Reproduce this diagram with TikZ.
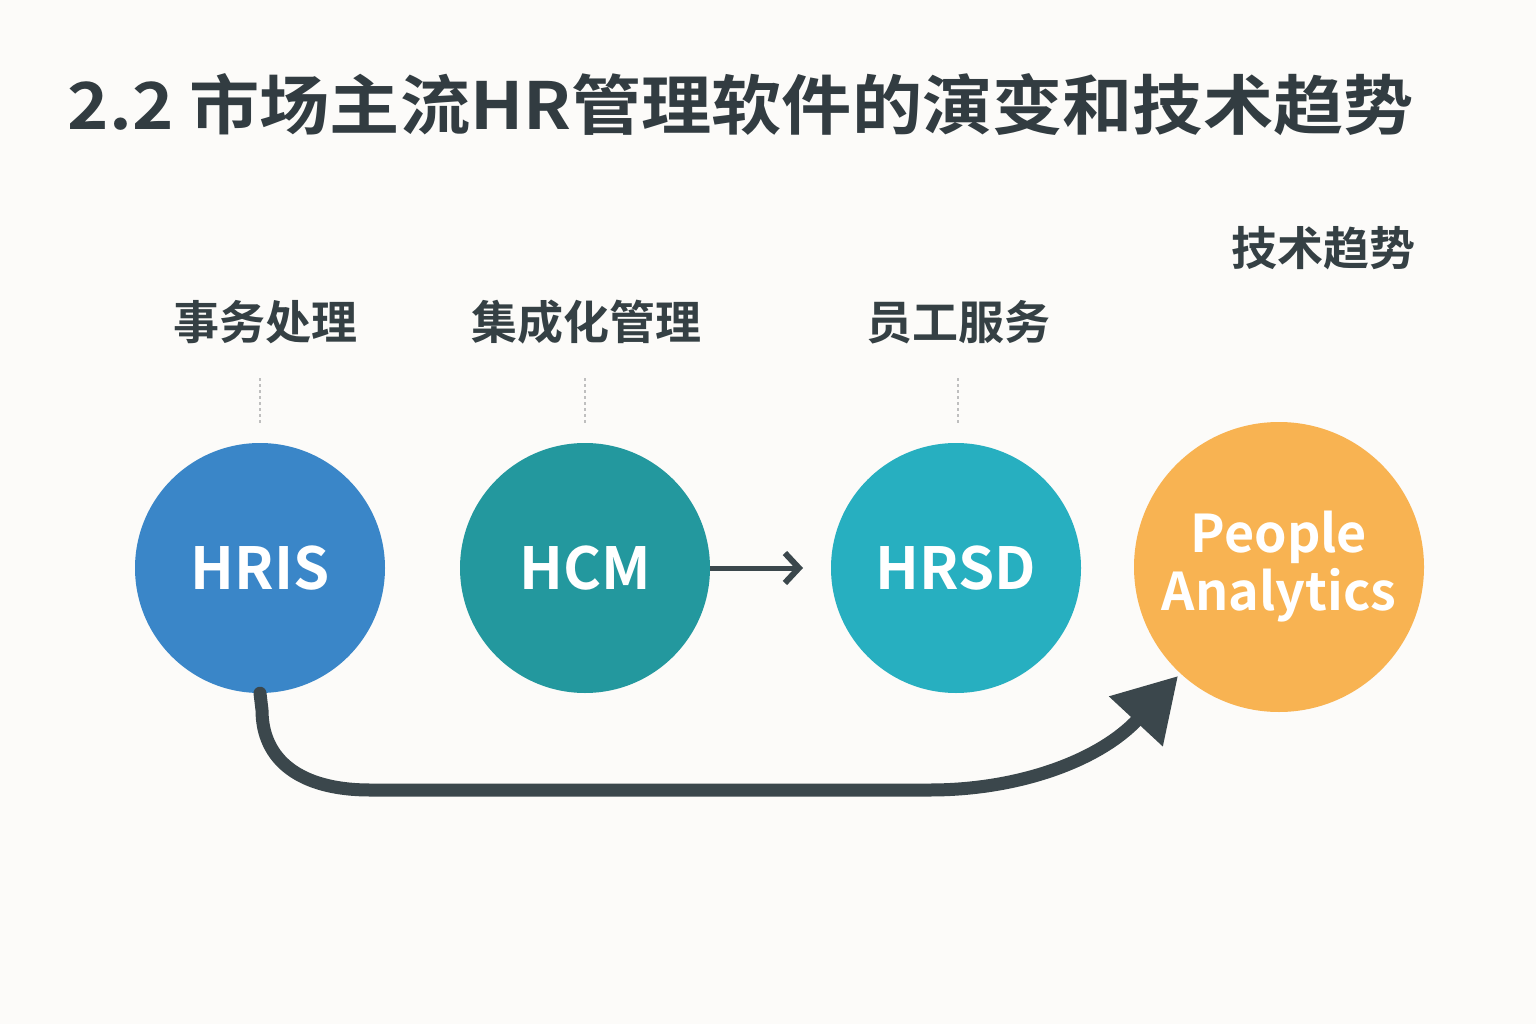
\documentclass[tikz,border=0pt]{standalone}
\usepackage{fontspec}
\setmainfont{Noto Sans CJK SC}[BoldFont={* Bold}]
\usetikzlibrary{arrows.meta}
\definecolor{bg}{HTML}{FCFBF9}
\definecolor{dark}{HTML}{3B474C}
\definecolor{cA}{HTML}{3A86C8}
\definecolor{cB}{HTML}{23989E}
\definecolor{cC}{HTML}{27AFC0}
\definecolor{cD}{HTML}{F8B352}
\begin{document}
\begin{tikzpicture}[x=1pt,y=-1pt,
  circ/.style={circle,minimum size=#1,inner sep=0pt,text=white,font=\fontsize{58}{62}\selectfont\bfseries},
  lab/.style={font=\fontsize{46}{50}\selectfont\bfseries,text=dark!90!black},
  guide/.style={gray!50,dashed,line width=1.2pt}]
\fill[bg] (0,0) rectangle (1536,1024);
\useasboundingbox (0,0) rectangle (1536,1024);
\node[anchor=west,xscale=1.08,font=\fontsize{65}{68}\selectfont\bfseries,text=dark!85!black] (title) at (64,105) {2.2 市场主流HR管理软件的演变和技术趋势};
\node[circ=250,fill=cA] (hris) at (260,568) {HRIS};
\node[circ=250,fill=cB] (hcm) at (585,568) {HCM};
\node[circ=250,fill=cC] (hrsd) at (956,568) {HRSD};
\node[circ=290,fill=cD,align=center,font=\fontsize{52}{58}\selectfont\bfseries] (pa) at (1279,567) {People\\Analytics};
\node[lab] (l1) at (265,322) {事务处理};
\node[lab] (l2) at (586,322) {集成化管理};
\node[lab] (l3) at (958,322) {员工服务};
\node[lab] (l4) at (1323,248) {技术趋势};
\coordinate (g1) at (260,378); \coordinate (g2) at (585,378); \coordinate (g3) at (958,378);
\draw[guide] (g1) -- ++(0,47);
\draw[guide] (g2) -- ++(0,47);
\draw[guide] (g3) -- ++(0,47);
\draw[dark,line width=5pt,-{Straight Barb[length=14pt,width=30pt,line width=6pt]}] (hcm.east) -- (803,568);
\draw[dark,line width=13pt,line cap=round,-{Triangle[length=62pt,width=70pt]}] (hris.south) -- (262,710) .. controls (262,760) and (300,790) .. (370,790) -- (930,790) .. controls (1020,790) and (1100,760) .. (1178,676);
\end{tikzpicture}
\end{document}
